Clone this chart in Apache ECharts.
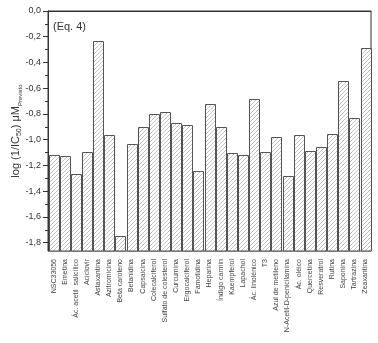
<!DOCTYPE html>
<html>
<head>
<meta charset="utf-8">
<script src="https://cdn.jsdelivr.net/npm/echarts@6/dist/echarts.min.js"></script>
<style>
  html, body { margin: 0; padding: 0; background: #fff; }
  #main { width: 378px; height: 343px; }
</style>
</head>
<body>
<div id="main"></div>
<script>
var categories = ['NSC33056', 'Emetina', 'Ác. acetil  salicílico', 'Aciclovir', 'Astaxantina',
  'Azitromicina', 'Beta caroteno', 'Betanidina', 'Capsaicina', 'Colecalciferol',
  'Sulfato de colesterol', 'Curcumina', 'Ergocalciferol', 'Famotidina', 'Heparina',
  'Índigo carmin', 'Kaempferol', 'Lapachol', 'Ác. linolénico', 'T3',
  'Azul de metileno', 'N-Acetil-D-penicilamina', 'Ác. oléico', 'Quercetina', 'Resveratrol',
  'Rutina', 'Saponina', 'Tartrazina', 'Zeaxantina'];
var values = [-1.116, -1.128, -1.268, -1.097, -0.234,
  -0.961, -1.748, -1.031, -0.904, -0.797,
  -0.785, -0.868, -0.886, -1.247, -0.721,
  -0.899, -1.104, -1.122, -0.681, -1.094,
  -0.977, -1.286, -0.964, -1.086, -1.057,
  -0.953, -0.546, -0.834, -0.291];
var yTicks = [0, -0.2, -0.4, -0.6, -0.8, -1.0, -1.2, -1.4, -1.6, -1.8];
var yMinorTicks = [-0.1, -0.3, -0.5, -0.7, -0.9, -1.1, -1.3, -1.5, -1.7];
var yMin = -1.865;
var yMax = 0;

// hatch pattern for the bars
var hatch = document.createElement('canvas');
hatch.width = 4;
hatch.height = 4;
var hc = hatch.getContext('2d');
hc.fillStyle = '#fff';
hc.fillRect(0, 0, 4, 4);
hc.strokeStyle = '#b4b4b4';
hc.lineWidth = 0.8;
hc.beginPath();
hc.moveTo(0, 4); hc.lineTo(4, 0);
hc.moveTo(-1, 1); hc.lineTo(1, -1);
hc.moveTo(3, 5); hc.lineTo(5, 3);
hc.stroke();

var font = 'Liberation Sans';
var chart = echarts.init(document.getElementById('main'));

var option = {
  backgroundColor: '#fff',
  animation: false,
  textStyle: { fontFamily: font },
  graphic: [{
    type: 'text',
    left: 53,
    top: 21,
    z: 10,
    style: { text: '(Eq. 4)', font: '11px ' + font, fill: '#333' }
  }],
  grid: {
    left: 48, top: 11, width: 323, height: 240,
    containLabel: false,
    outerBoundsMode: 'none',
    show: true, borderColor: '#333', borderWidth: 1
  },
  xAxis: {
    type: 'category',
    data: categories,
    axisLine: { lineStyle: { color: '#333' } },
    axisTick: { alignWithLabel: true, interval: 0, length: 4, lineStyle: { color: '#333' } },
    axisLabel: { rotate: 90, interval: 0, fontSize: 7, color: '#444', margin: 8 }
  },
  yAxis: [{
    type: 'value',
    min: yMin,
    max: yMax,
    name: '{n|log (1/IC}{s|50}{n|) μM}{p|Previsto}',
    nameLocation: 'middle',
    nameGap: 25,
    nameMoveOverlap: false,
    nameTextStyle: {
      rich: {
        n: { fontSize: 11, color: '#333', lineHeight: 14 },
        s: { fontSize: 7, color: '#333', verticalAlign: 'bottom', lineHeight: 8 },
        p: { fontSize: 6, color: '#333', verticalAlign: 'bottom', lineHeight: 7 }
      }
    },
    axisLine: { show: true, lineStyle: { color: '#333' } },
    axisTick: { show: true, length: 5, customValues: yTicks, lineStyle: { color: '#333' } },
    axisLabel: {
      fontSize: 9, color: '#333', margin: 7,
      customValues: yTicks,
      formatter: function (v) { return v.toFixed(1).replace('.', ','); }
    },
    splitLine: { show: false }
  }, {
    type: 'value',
    position: 'left',
    min: yMin,
    max: yMax,
    axisLine: { show: false },
    axisTick: { show: true, length: 3, customValues: yMinorTicks, lineStyle: { color: '#333' } },
    axisLabel: { show: false },
    splitLine: { show: false }
  }],
  series: [{
    type: 'custom',
    xAxisIndex: 0,
    yAxisIndex: 0,
    data: values.map(function (v, i) { return [i, v]; }),
    encode: { x: 0, y: 1 },
    renderItem: function (params, api) {
      var top = api.coord([api.value(0), api.value(1)]);
      var base = api.coord([api.value(0), yMin]);
      var w = api.size([1, 0])[0] * 0.88;
      var x0 = Math.round(top[0] - w / 2) + 0.5;
      var y0 = Math.round(top[1]) + 0.5;
      return {
        type: 'rect',
        shape: { x: x0, y: y0, width: Math.round(w), height: base[1] - y0 },
        style: { fill: { image: hatch, repeat: 'repeat' }, stroke: '#555', lineWidth: 1 }
      };
    }
  }]
};
chart.setOption(option);
</script>
</body>
</html>
